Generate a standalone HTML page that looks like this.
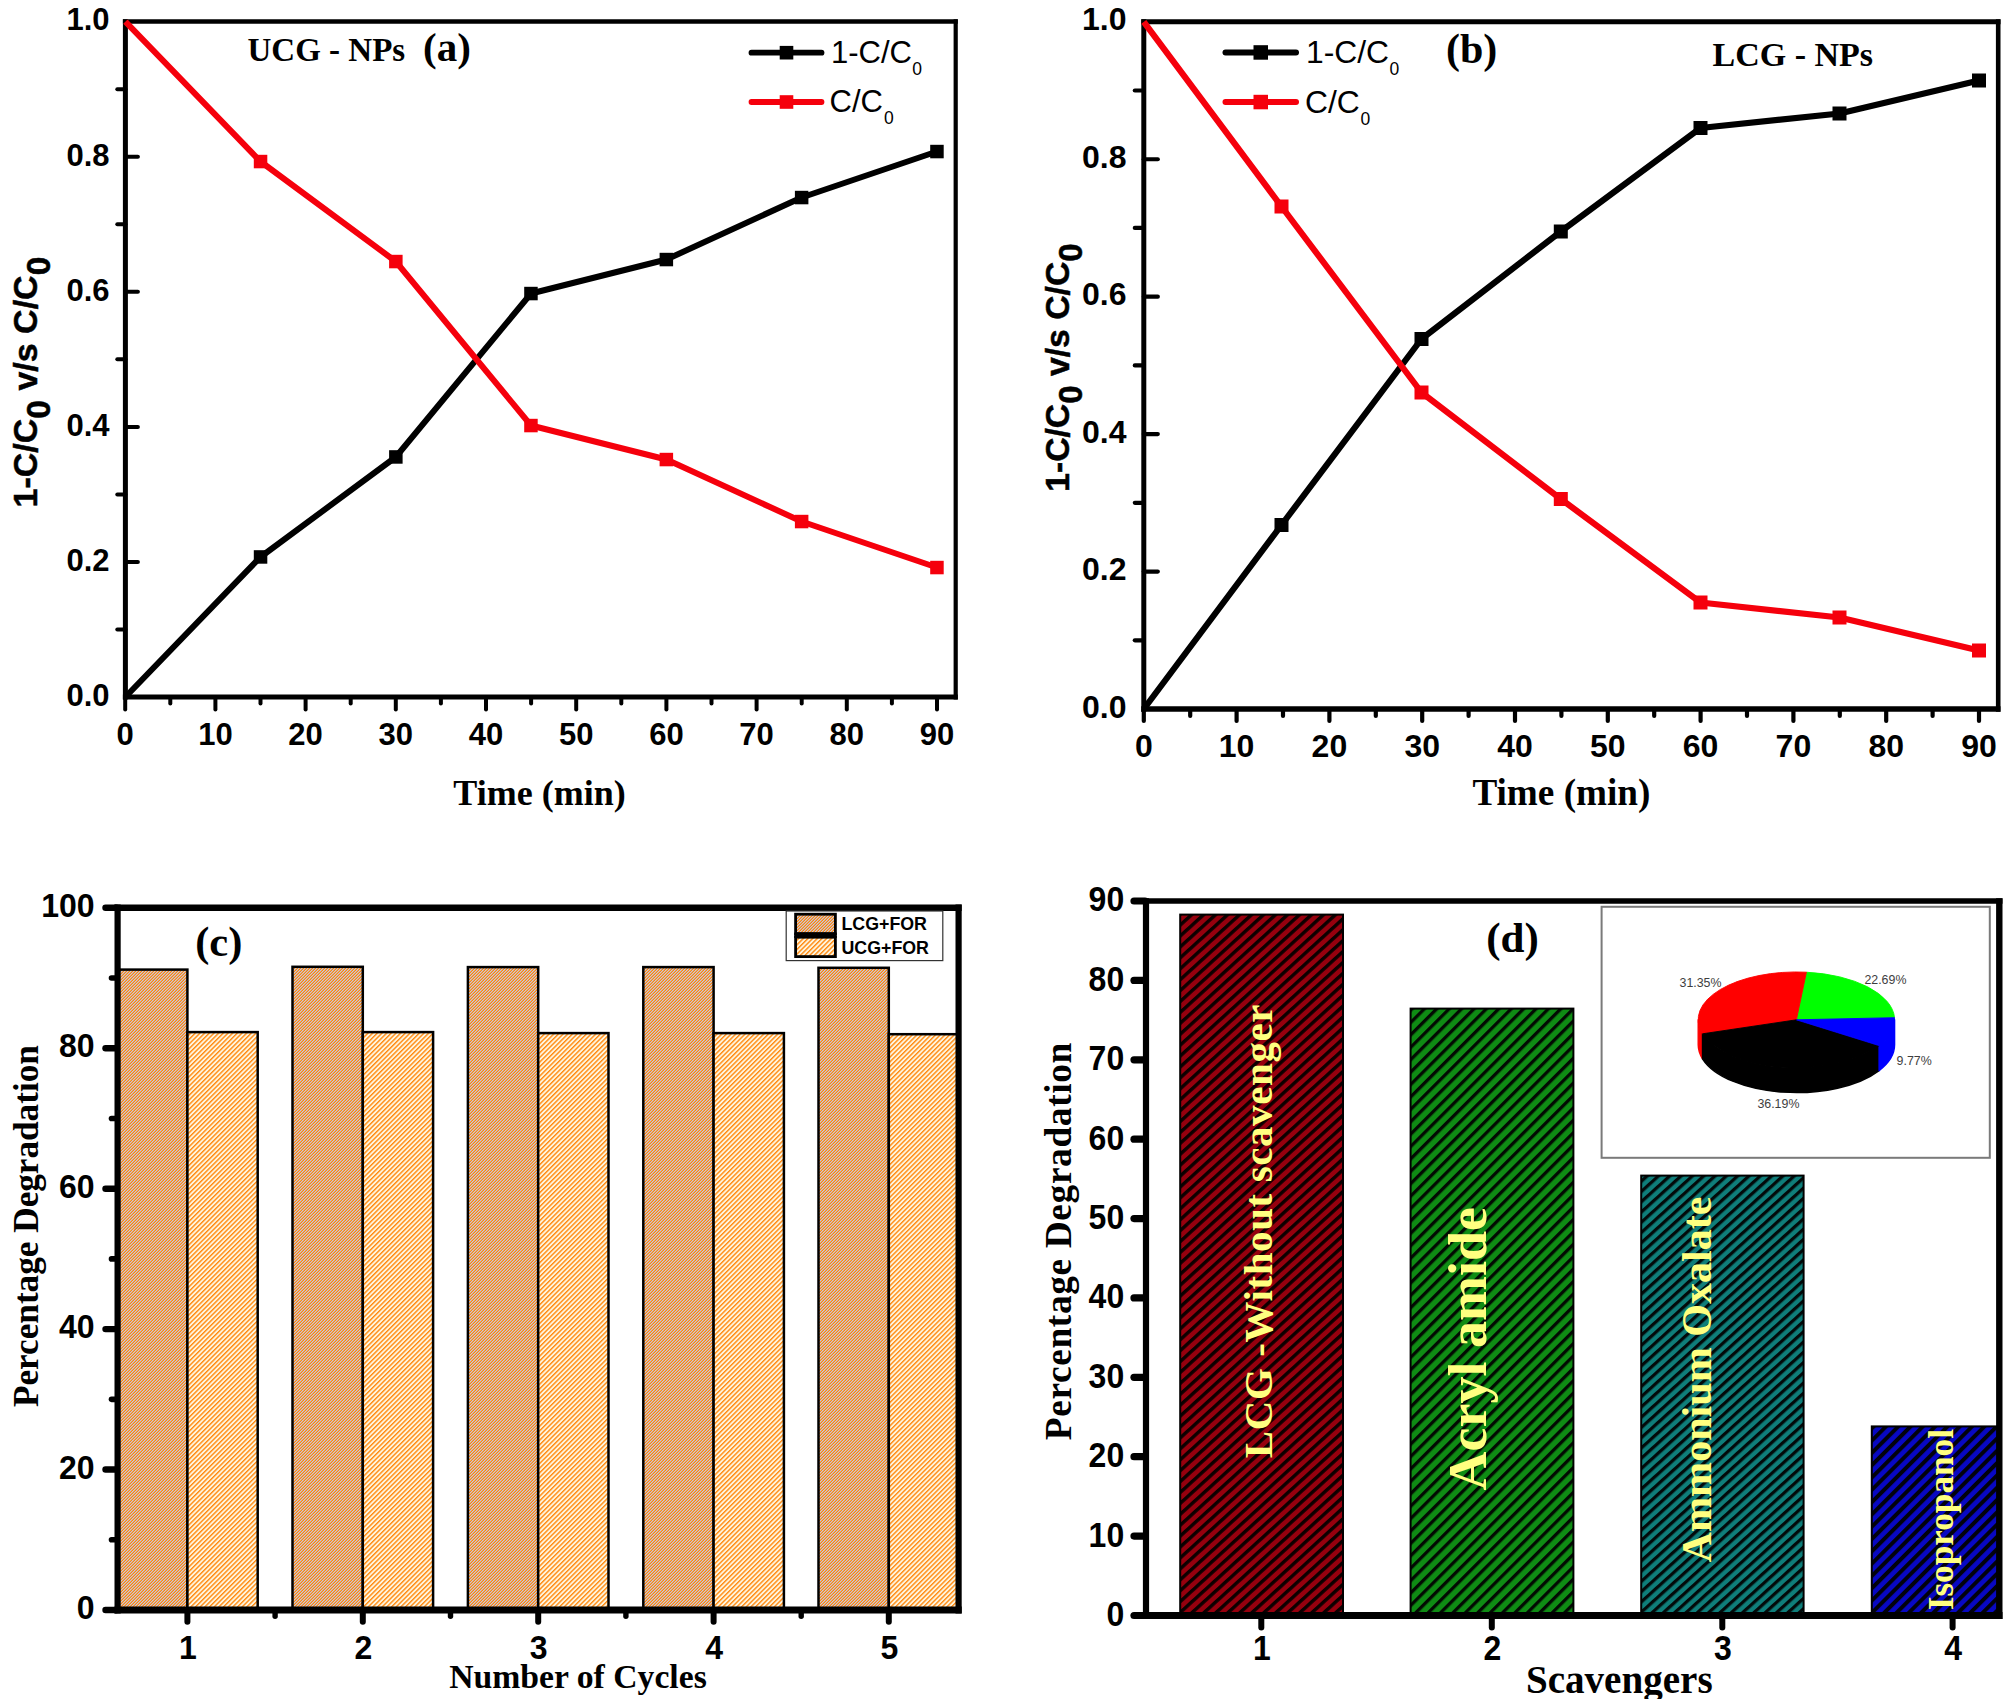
<!DOCTYPE html>
<html lang="en"><head><meta charset="utf-8"><title>Figure</title>
<style>html,body{margin:0;padding:0;background:#fff;}svg{display:block;}</style></head>
<body>
<svg width="2007" height="1699" viewBox="0 0 2007 1699">
<defs>
<pattern id="hL" patternUnits="userSpaceOnUse" width="3" height="3">
<rect x="0" y="0" width="1.02" height="1.02" fill="#c8c8dc" shape-rendering="crispEdges"/>
<rect x="1" y="0" width="1.02" height="1.02" fill="#e4a772" shape-rendering="crispEdges"/>
<rect x="2" y="0" width="1.02" height="1.02" fill="#ff8608" shape-rendering="crispEdges"/>
<rect x="0" y="1" width="1.02" height="1.02" fill="#e4a772" shape-rendering="crispEdges"/>
<rect x="1" y="1" width="1.02" height="1.02" fill="#ff8608" shape-rendering="crispEdges"/>
<rect x="2" y="1" width="1.02" height="1.02" fill="#c8c8dc" shape-rendering="crispEdges"/>
<rect x="0" y="2" width="1.02" height="1.02" fill="#ff8608" shape-rendering="crispEdges"/>
<rect x="1" y="2" width="1.02" height="1.02" fill="#c8c8dc" shape-rendering="crispEdges"/>
<rect x="2" y="2" width="1.02" height="1.02" fill="#e4a772" shape-rendering="crispEdges"/>
</pattern>
<pattern id="hU" patternUnits="userSpaceOnUse" width="3.3" height="3.3" patternTransform="rotate(-45)"><rect width="3.3" height="3.3" fill="#fff6e0"/><rect x="0" y="0" width="3.3" height="1.4" fill="#ff8a10"/></pattern>
<pattern id="hR" patternUnits="userSpaceOnUse" width="8.07" height="8.07" patternTransform="rotate(-42.3)"><rect width="8.07" height="8.07" fill="#96000e"/><rect x="0" y="0" width="8.07" height="3.4" fill="#0c0000"/></pattern>
<pattern id="hG" patternUnits="userSpaceOnUse" width="8.77" height="8.77" patternTransform="rotate(-45)"><rect width="8.77" height="8.77" fill="#0f8c14"/><rect x="0" y="0" width="8.77" height="3.3" fill="#020a02"/></pattern>
<pattern id="hT" patternUnits="userSpaceOnUse" width="7.6" height="7.6" patternTransform="rotate(-42.2)"><rect width="7.6" height="7.6" fill="#0f7e7a"/><rect x="0" y="0" width="7.6" height="3.25" fill="#020a0a"/></pattern>
<pattern id="hB" patternUnits="userSpaceOnUse" width="8.7" height="8.7" patternTransform="rotate(-45)"><rect width="8.7" height="8.7" fill="#0808c4"/><rect x="0" y="0" width="8.7" height="4.0" fill="#02020c"/></pattern>
</defs>
<rect width="2007" height="1699" fill="#fff"/>
<line x1="125.40" y1="19.35" x2="125.40" y2="699.60" stroke="#000" stroke-width="5" stroke-linecap="butt"/>
<line x1="955.70" y1="19.35" x2="955.70" y2="699.60" stroke="#000" stroke-width="4.2" stroke-linecap="butt"/>
<line x1="122.90" y1="21.60" x2="957.80" y2="21.60" stroke="#000" stroke-width="4.5" stroke-linecap="butt"/>
<line x1="122.90" y1="697.10" x2="957.80" y2="697.10" stroke="#000" stroke-width="5" stroke-linecap="butt"/>
<text x="109.50" y="705.90" font-family='"Liberation Sans", sans-serif' font-size="31" font-weight="bold" text-anchor="end" fill="#000" >0.0</text>
<line x1="117.30" y1="629.55" x2="125.40" y2="629.55" stroke="#000" stroke-width="4" stroke-linecap="round"/>
<line x1="125.40" y1="562.00" x2="137.90" y2="562.00" stroke="#000" stroke-width="4" stroke-linecap="round"/>
<text x="109.50" y="570.80" font-family='"Liberation Sans", sans-serif' font-size="31" font-weight="bold" text-anchor="end" fill="#000" >0.2</text>
<line x1="117.30" y1="494.45" x2="125.40" y2="494.45" stroke="#000" stroke-width="4" stroke-linecap="round"/>
<line x1="125.40" y1="426.90" x2="137.90" y2="426.90" stroke="#000" stroke-width="4" stroke-linecap="round"/>
<text x="109.50" y="435.70" font-family='"Liberation Sans", sans-serif' font-size="31" font-weight="bold" text-anchor="end" fill="#000" >0.4</text>
<line x1="117.30" y1="359.35" x2="125.40" y2="359.35" stroke="#000" stroke-width="4" stroke-linecap="round"/>
<line x1="125.40" y1="291.80" x2="137.90" y2="291.80" stroke="#000" stroke-width="4" stroke-linecap="round"/>
<text x="109.50" y="300.60" font-family='"Liberation Sans", sans-serif' font-size="31" font-weight="bold" text-anchor="end" fill="#000" >0.6</text>
<line x1="117.30" y1="224.25" x2="125.40" y2="224.25" stroke="#000" stroke-width="4" stroke-linecap="round"/>
<line x1="125.40" y1="156.70" x2="137.90" y2="156.70" stroke="#000" stroke-width="4" stroke-linecap="round"/>
<text x="109.50" y="165.50" font-family='"Liberation Sans", sans-serif' font-size="31" font-weight="bold" text-anchor="end" fill="#000" >0.8</text>
<line x1="117.30" y1="89.15" x2="125.40" y2="89.15" stroke="#000" stroke-width="4" stroke-linecap="round"/>
<text x="109.50" y="30.40" font-family='"Liberation Sans", sans-serif' font-size="31" font-weight="bold" text-anchor="end" fill="#000" >1.0</text>
<line x1="125.20" y1="697.10" x2="125.20" y2="709.60" stroke="#000" stroke-width="4" stroke-linecap="round"/>
<text x="125.20" y="745.00" font-family='"Liberation Sans", sans-serif' font-size="31" font-weight="bold" text-anchor="middle" fill="#000" >0</text>
<line x1="170.30" y1="697.10" x2="170.30" y2="703.60" stroke="#000" stroke-width="4" stroke-linecap="round"/>
<line x1="215.40" y1="697.10" x2="215.40" y2="709.60" stroke="#000" stroke-width="4" stroke-linecap="round"/>
<text x="215.40" y="745.00" font-family='"Liberation Sans", sans-serif' font-size="31" font-weight="bold" text-anchor="middle" fill="#000" >10</text>
<line x1="260.50" y1="697.10" x2="260.50" y2="703.60" stroke="#000" stroke-width="4" stroke-linecap="round"/>
<line x1="305.60" y1="697.10" x2="305.60" y2="709.60" stroke="#000" stroke-width="4" stroke-linecap="round"/>
<text x="305.60" y="745.00" font-family='"Liberation Sans", sans-serif' font-size="31" font-weight="bold" text-anchor="middle" fill="#000" >20</text>
<line x1="350.70" y1="697.10" x2="350.70" y2="703.60" stroke="#000" stroke-width="4" stroke-linecap="round"/>
<line x1="395.80" y1="697.10" x2="395.80" y2="709.60" stroke="#000" stroke-width="4" stroke-linecap="round"/>
<text x="395.80" y="745.00" font-family='"Liberation Sans", sans-serif' font-size="31" font-weight="bold" text-anchor="middle" fill="#000" >30</text>
<line x1="440.90" y1="697.10" x2="440.90" y2="703.60" stroke="#000" stroke-width="4" stroke-linecap="round"/>
<line x1="486.00" y1="697.10" x2="486.00" y2="709.60" stroke="#000" stroke-width="4" stroke-linecap="round"/>
<text x="486.00" y="745.00" font-family='"Liberation Sans", sans-serif' font-size="31" font-weight="bold" text-anchor="middle" fill="#000" >40</text>
<line x1="531.10" y1="697.10" x2="531.10" y2="703.60" stroke="#000" stroke-width="4" stroke-linecap="round"/>
<line x1="576.20" y1="697.10" x2="576.20" y2="709.60" stroke="#000" stroke-width="4" stroke-linecap="round"/>
<text x="576.20" y="745.00" font-family='"Liberation Sans", sans-serif' font-size="31" font-weight="bold" text-anchor="middle" fill="#000" >50</text>
<line x1="621.30" y1="697.10" x2="621.30" y2="703.60" stroke="#000" stroke-width="4" stroke-linecap="round"/>
<line x1="666.40" y1="697.10" x2="666.40" y2="709.60" stroke="#000" stroke-width="4" stroke-linecap="round"/>
<text x="666.40" y="745.00" font-family='"Liberation Sans", sans-serif' font-size="31" font-weight="bold" text-anchor="middle" fill="#000" >60</text>
<line x1="711.50" y1="697.10" x2="711.50" y2="703.60" stroke="#000" stroke-width="4" stroke-linecap="round"/>
<line x1="756.60" y1="697.10" x2="756.60" y2="709.60" stroke="#000" stroke-width="4" stroke-linecap="round"/>
<text x="756.60" y="745.00" font-family='"Liberation Sans", sans-serif' font-size="31" font-weight="bold" text-anchor="middle" fill="#000" >70</text>
<line x1="801.70" y1="697.10" x2="801.70" y2="703.60" stroke="#000" stroke-width="4" stroke-linecap="round"/>
<line x1="846.80" y1="697.10" x2="846.80" y2="709.60" stroke="#000" stroke-width="4" stroke-linecap="round"/>
<text x="846.80" y="745.00" font-family='"Liberation Sans", sans-serif' font-size="31" font-weight="bold" text-anchor="middle" fill="#000" >80</text>
<line x1="891.90" y1="697.10" x2="891.90" y2="703.60" stroke="#000" stroke-width="4" stroke-linecap="round"/>
<line x1="937.00" y1="697.10" x2="937.00" y2="709.60" stroke="#000" stroke-width="4" stroke-linecap="round"/>
<text x="937.00" y="745.00" font-family='"Liberation Sans", sans-serif' font-size="31" font-weight="bold" text-anchor="middle" fill="#000" >90</text>
<polyline points="125.4,697.0 260.5,557.0 395.8,457.0 531.0,293.5 666.4,259.5 801.6,197.5 937.0,151.5" fill="none" stroke="#000" stroke-width="6" stroke-linejoin="round"/>
<rect x="253.8" y="550.2" width="13.5" height="13.5" fill="#000"/>
<rect x="389.1" y="450.2" width="13.5" height="13.5" fill="#000"/>
<rect x="524.2" y="286.8" width="13.5" height="13.5" fill="#000"/>
<rect x="659.6" y="252.8" width="13.5" height="13.5" fill="#000"/>
<rect x="794.9" y="190.8" width="13.5" height="13.5" fill="#000"/>
<rect x="930.2" y="144.8" width="13.5" height="13.5" fill="#000"/>
<polyline points="125.4,21.6 260.5,161.5 395.8,261.5 531.0,425.5 666.4,459.5 801.6,521.5 937.0,567.5" fill="none" stroke="#f5000c" stroke-width="6" stroke-linejoin="round"/>
<rect x="253.8" y="154.8" width="13.5" height="13.5" fill="#f5000c"/>
<rect x="389.1" y="254.8" width="13.5" height="13.5" fill="#f5000c"/>
<rect x="524.2" y="418.8" width="13.5" height="13.5" fill="#f5000c"/>
<rect x="659.6" y="452.8" width="13.5" height="13.5" fill="#f5000c"/>
<rect x="794.9" y="514.8" width="13.5" height="13.5" fill="#f5000c"/>
<rect x="930.2" y="560.8" width="13.5" height="13.5" fill="#f5000c"/>
<line x1="751.50" y1="52.70" x2="821.50" y2="52.70" stroke="#000" stroke-width="5.8" stroke-linecap="round"/>
<rect x="779.7" y="45.9" width="13.6" height="13.6" fill="#000"/>
<text x="831.00" y="63.10" font-family='"Liberation Sans", sans-serif' font-size="31" font-weight="normal" text-anchor="start" fill="#000" >1-C/C</text>
<text x="912.30" y="74.80" font-family='"Liberation Sans", sans-serif' font-size="17.5" font-weight="normal" text-anchor="start" fill="#000" >0</text>
<line x1="751.50" y1="102.00" x2="821.50" y2="102.00" stroke="#f5000c" stroke-width="5.8" stroke-linecap="round"/>
<rect x="779.7" y="95.2" width="13.6" height="13.6" fill="#f5000c"/>
<text x="829.50" y="112.30" font-family='"Liberation Sans", sans-serif' font-size="31" font-weight="normal" text-anchor="start" fill="#000" >C/C</text>
<text x="884.00" y="124.00" font-family='"Liberation Sans", sans-serif' font-size="17.5" font-weight="normal" text-anchor="start" fill="#000" >0</text>
<text x="247.50" y="60.80" font-family='"Liberation Serif", serif' font-size="33" font-weight="bold" text-anchor="start" fill="#000" >UCG - NPs</text>
<text x="423.00" y="60.80" font-family='"Liberation Serif", serif' font-size="41" font-weight="bold" text-anchor="start" fill="#000" >(a)</text>
<text x="539.50" y="805.40" font-family='"Liberation Serif", serif' font-size="36" font-weight="bold" text-anchor="middle" fill="#000" >Time (min)</text>
<text transform="translate(37.00,507.50) rotate(-90)" font-family='"Liberation Sans", sans-serif' font-size="34" font-weight="bold" fill="#000" stroke="#000" stroke-width="0.5">1-C/C<tspan dy="13.4" font-size="33.5">0</tspan><tspan dy="-13.4"> v/s C/C</tspan><tspan dy="13.4" font-size="33.5">0</tspan></text>
<line x1="1143.80" y1="19.30" x2="1143.80" y2="711.75" stroke="#000" stroke-width="5" stroke-linecap="butt"/>
<line x1="1998.20" y1="19.30" x2="1998.20" y2="711.75" stroke="#000" stroke-width="4.6" stroke-linecap="butt"/>
<line x1="1141.30" y1="21.80" x2="2000.50" y2="21.80" stroke="#000" stroke-width="5" stroke-linecap="butt"/>
<line x1="1141.30" y1="709.00" x2="2000.50" y2="709.00" stroke="#000" stroke-width="5.5" stroke-linecap="butt"/>
<text x="1126.50" y="717.60" font-family='"Liberation Sans", sans-serif' font-size="32" font-weight="bold" text-anchor="end" fill="#000" >0.0</text>
<line x1="1134.80" y1="640.28" x2="1143.80" y2="640.28" stroke="#000" stroke-width="4.2" stroke-linecap="round"/>
<line x1="1143.80" y1="571.56" x2="1157.80" y2="571.56" stroke="#000" stroke-width="4.2" stroke-linecap="round"/>
<text x="1126.50" y="580.16" font-family='"Liberation Sans", sans-serif' font-size="32" font-weight="bold" text-anchor="end" fill="#000" >0.2</text>
<line x1="1134.80" y1="502.84" x2="1143.80" y2="502.84" stroke="#000" stroke-width="4.2" stroke-linecap="round"/>
<line x1="1143.80" y1="434.12" x2="1157.80" y2="434.12" stroke="#000" stroke-width="4.2" stroke-linecap="round"/>
<text x="1126.50" y="442.72" font-family='"Liberation Sans", sans-serif' font-size="32" font-weight="bold" text-anchor="end" fill="#000" >0.4</text>
<line x1="1134.80" y1="365.40" x2="1143.80" y2="365.40" stroke="#000" stroke-width="4.2" stroke-linecap="round"/>
<line x1="1143.80" y1="296.68" x2="1157.80" y2="296.68" stroke="#000" stroke-width="4.2" stroke-linecap="round"/>
<text x="1126.50" y="305.28" font-family='"Liberation Sans", sans-serif' font-size="32" font-weight="bold" text-anchor="end" fill="#000" >0.6</text>
<line x1="1134.80" y1="227.96" x2="1143.80" y2="227.96" stroke="#000" stroke-width="4.2" stroke-linecap="round"/>
<line x1="1143.80" y1="159.24" x2="1157.80" y2="159.24" stroke="#000" stroke-width="4.2" stroke-linecap="round"/>
<text x="1126.50" y="167.84" font-family='"Liberation Sans", sans-serif' font-size="32" font-weight="bold" text-anchor="end" fill="#000" >0.8</text>
<line x1="1134.80" y1="90.52" x2="1143.80" y2="90.52" stroke="#000" stroke-width="4.2" stroke-linecap="round"/>
<text x="1126.50" y="30.40" font-family='"Liberation Sans", sans-serif' font-size="32" font-weight="bold" text-anchor="end" fill="#000" >1.0</text>
<line x1="1143.80" y1="709.00" x2="1143.80" y2="721.00" stroke="#000" stroke-width="4.2" stroke-linecap="round"/>
<text x="1143.80" y="756.50" font-family='"Liberation Sans", sans-serif' font-size="32" font-weight="bold" text-anchor="middle" fill="#000" >0</text>
<line x1="1190.20" y1="709.00" x2="1190.20" y2="716.00" stroke="#000" stroke-width="4.2" stroke-linecap="round"/>
<line x1="1236.60" y1="709.00" x2="1236.60" y2="721.00" stroke="#000" stroke-width="4.2" stroke-linecap="round"/>
<text x="1236.60" y="756.50" font-family='"Liberation Sans", sans-serif' font-size="32" font-weight="bold" text-anchor="middle" fill="#000" >10</text>
<line x1="1283.00" y1="709.00" x2="1283.00" y2="716.00" stroke="#000" stroke-width="4.2" stroke-linecap="round"/>
<line x1="1329.40" y1="709.00" x2="1329.40" y2="721.00" stroke="#000" stroke-width="4.2" stroke-linecap="round"/>
<text x="1329.40" y="756.50" font-family='"Liberation Sans", sans-serif' font-size="32" font-weight="bold" text-anchor="middle" fill="#000" >20</text>
<line x1="1375.80" y1="709.00" x2="1375.80" y2="716.00" stroke="#000" stroke-width="4.2" stroke-linecap="round"/>
<line x1="1422.20" y1="709.00" x2="1422.20" y2="721.00" stroke="#000" stroke-width="4.2" stroke-linecap="round"/>
<text x="1422.20" y="756.50" font-family='"Liberation Sans", sans-serif' font-size="32" font-weight="bold" text-anchor="middle" fill="#000" >30</text>
<line x1="1468.60" y1="709.00" x2="1468.60" y2="716.00" stroke="#000" stroke-width="4.2" stroke-linecap="round"/>
<line x1="1515.00" y1="709.00" x2="1515.00" y2="721.00" stroke="#000" stroke-width="4.2" stroke-linecap="round"/>
<text x="1515.00" y="756.50" font-family='"Liberation Sans", sans-serif' font-size="32" font-weight="bold" text-anchor="middle" fill="#000" >40</text>
<line x1="1561.40" y1="709.00" x2="1561.40" y2="716.00" stroke="#000" stroke-width="4.2" stroke-linecap="round"/>
<line x1="1607.80" y1="709.00" x2="1607.80" y2="721.00" stroke="#000" stroke-width="4.2" stroke-linecap="round"/>
<text x="1607.80" y="756.50" font-family='"Liberation Sans", sans-serif' font-size="32" font-weight="bold" text-anchor="middle" fill="#000" >50</text>
<line x1="1654.20" y1="709.00" x2="1654.20" y2="716.00" stroke="#000" stroke-width="4.2" stroke-linecap="round"/>
<line x1="1700.60" y1="709.00" x2="1700.60" y2="721.00" stroke="#000" stroke-width="4.2" stroke-linecap="round"/>
<text x="1700.60" y="756.50" font-family='"Liberation Sans", sans-serif' font-size="32" font-weight="bold" text-anchor="middle" fill="#000" >60</text>
<line x1="1747.00" y1="709.00" x2="1747.00" y2="716.00" stroke="#000" stroke-width="4.2" stroke-linecap="round"/>
<line x1="1793.40" y1="709.00" x2="1793.40" y2="721.00" stroke="#000" stroke-width="4.2" stroke-linecap="round"/>
<text x="1793.40" y="756.50" font-family='"Liberation Sans", sans-serif' font-size="32" font-weight="bold" text-anchor="middle" fill="#000" >70</text>
<line x1="1839.80" y1="709.00" x2="1839.80" y2="716.00" stroke="#000" stroke-width="4.2" stroke-linecap="round"/>
<line x1="1886.20" y1="709.00" x2="1886.20" y2="721.00" stroke="#000" stroke-width="4.2" stroke-linecap="round"/>
<text x="1886.20" y="756.50" font-family='"Liberation Sans", sans-serif' font-size="32" font-weight="bold" text-anchor="middle" fill="#000" >80</text>
<line x1="1932.60" y1="709.00" x2="1932.60" y2="716.00" stroke="#000" stroke-width="4.2" stroke-linecap="round"/>
<line x1="1979.00" y1="709.00" x2="1979.00" y2="721.00" stroke="#000" stroke-width="4.2" stroke-linecap="round"/>
<text x="1979.00" y="756.50" font-family='"Liberation Sans", sans-serif' font-size="32" font-weight="bold" text-anchor="middle" fill="#000" >90</text>
<polyline points="1143.8,709.0 1281.5,525.0 1421.5,339.0 1560.8,231.5 1700.5,128.0 1839.5,113.5 1979.0,80.5" fill="none" stroke="#000" stroke-width="6.2" stroke-linejoin="round"/>
<rect x="1274.5" y="518.0" width="14" height="14" fill="#000"/>
<rect x="1414.5" y="332.0" width="14" height="14" fill="#000"/>
<rect x="1553.8" y="224.5" width="14" height="14" fill="#000"/>
<rect x="1693.5" y="121.0" width="14" height="14" fill="#000"/>
<rect x="1832.5" y="106.5" width="14" height="14" fill="#000"/>
<rect x="1972.0" y="73.5" width="14" height="14" fill="#000"/>
<polyline points="1143.8,21.8 1281.5,206.5 1421.5,392.5 1560.8,499.0 1700.5,602.5 1839.5,617.5 1979.0,650.5" fill="none" stroke="#f5000c" stroke-width="6.2" stroke-linejoin="round"/>
<rect x="1274.5" y="199.5" width="14" height="14" fill="#f5000c"/>
<rect x="1414.5" y="385.5" width="14" height="14" fill="#f5000c"/>
<rect x="1553.8" y="492.0" width="14" height="14" fill="#f5000c"/>
<rect x="1693.5" y="595.5" width="14" height="14" fill="#f5000c"/>
<rect x="1832.5" y="610.5" width="14" height="14" fill="#f5000c"/>
<rect x="1972.0" y="643.5" width="14" height="14" fill="#f5000c"/>
<line x1="1225.50" y1="52.50" x2="1296.00" y2="52.50" stroke="#000" stroke-width="6" stroke-linecap="round"/>
<rect x="1253.5" y="45.2" width="14.5" height="14.5" fill="#000"/>
<text x="1306.00" y="62.50" font-family='"Liberation Sans", sans-serif' font-size="31.8" font-weight="normal" text-anchor="start" fill="#000" >1-C/C</text>
<text x="1389.50" y="75.00" font-family='"Liberation Sans", sans-serif' font-size="17.5" font-weight="normal" text-anchor="start" fill="#000" >0</text>
<line x1="1225.50" y1="102.00" x2="1296.00" y2="102.00" stroke="#f5000c" stroke-width="6" stroke-linecap="round"/>
<rect x="1253.5" y="94.8" width="14.5" height="14.5" fill="#f5000c"/>
<text x="1305.00" y="112.50" font-family='"Liberation Sans", sans-serif' font-size="31.8" font-weight="normal" text-anchor="start" fill="#000" >C/C</text>
<text x="1360.50" y="125.00" font-family='"Liberation Sans", sans-serif' font-size="17.5" font-weight="normal" text-anchor="start" fill="#000" >0</text>
<text x="1446.00" y="62.50" font-family='"Liberation Serif", serif' font-size="42" font-weight="bold" text-anchor="start" fill="#000" >(b)</text>
<text x="1712.50" y="65.50" font-family='"Liberation Serif", serif' font-size="34" font-weight="bold" text-anchor="start" fill="#000" >LCG - NPs</text>
<text x="1561.40" y="804.70" font-family='"Liberation Serif", serif' font-size="37.2" font-weight="bold" text-anchor="middle" fill="#000" >Time (min)</text>
<text transform="translate(1068.50,491.80) rotate(-90)" font-family='"Liberation Sans", sans-serif' font-size="33.7" font-weight="bold" fill="#000" stroke="#000" stroke-width="0.5">1-C/C<tspan dy="13.6" font-size="33.2">0</tspan><tspan dy="-13.6"> v/s C/C</tspan><tspan dy="13.6" font-size="33.2">0</tspan></text>
<clipPath id="clipC"><rect x="117.6" y="907.8" width="841.0" height="702.2"/></clipPath>
<g clip-path="url(#clipC)">
<rect x="117.1" y="969.6" width="70.3" height="645.4" fill="url(#hL)" stroke="#000" stroke-width="2.5"/>
<rect x="187.4" y="1032.1" width="70.3" height="582.9" fill="url(#hU)" stroke="#000" stroke-width="2.5"/>
<rect x="292.5" y="966.8" width="70.3" height="648.2" fill="url(#hL)" stroke="#000" stroke-width="2.5"/>
<rect x="362.8" y="1032.1" width="70.3" height="582.9" fill="url(#hU)" stroke="#000" stroke-width="2.5"/>
<rect x="467.9" y="967.1" width="70.3" height="647.9" fill="url(#hL)" stroke="#000" stroke-width="2.5"/>
<rect x="538.2" y="1033.1" width="70.3" height="581.9" fill="url(#hU)" stroke="#000" stroke-width="2.5"/>
<rect x="643.3" y="967.1" width="70.3" height="647.9" fill="url(#hL)" stroke="#000" stroke-width="2.5"/>
<rect x="713.6" y="1033.1" width="70.3" height="581.9" fill="url(#hU)" stroke="#000" stroke-width="2.5"/>
<rect x="818.5" y="967.8" width="70.3" height="647.2" fill="url(#hL)" stroke="#000" stroke-width="2.5"/>
<rect x="888.8" y="1034.2" width="70.3" height="580.8" fill="url(#hU)" stroke="#000" stroke-width="2.5"/>
</g>
<line x1="117.60" y1="904.60" x2="117.60" y2="1613.50" stroke="#000" stroke-width="6.2" stroke-linecap="butt"/>
<line x1="958.60" y1="904.60" x2="958.60" y2="1613.50" stroke="#000" stroke-width="6.2" stroke-linecap="butt"/>
<line x1="114.50" y1="907.80" x2="961.70" y2="907.80" stroke="#000" stroke-width="6.4" stroke-linecap="butt"/>
<line x1="114.50" y1="1610.00" x2="961.70" y2="1610.00" stroke="#000" stroke-width="7" stroke-linecap="butt"/>
<line x1="105.50" y1="1610.00" x2="116.60" y2="1610.00" stroke="#000" stroke-width="6.4" stroke-linecap="round"/>
<text transform="translate(94.60,1619.20) scale(1,1.04)" font-family='"Liberation Sans", sans-serif' font-size="32" font-weight="bold" text-anchor="end" fill="#000" >0</text>
<line x1="111.50" y1="1539.78" x2="116.60" y2="1539.78" stroke="#000" stroke-width="5.6" stroke-linecap="round"/>
<line x1="105.50" y1="1469.56" x2="116.60" y2="1469.56" stroke="#000" stroke-width="6.4" stroke-linecap="round"/>
<text transform="translate(94.60,1478.76) scale(1,1.04)" font-family='"Liberation Sans", sans-serif' font-size="32" font-weight="bold" text-anchor="end" fill="#000" >20</text>
<line x1="111.50" y1="1399.34" x2="116.60" y2="1399.34" stroke="#000" stroke-width="5.6" stroke-linecap="round"/>
<line x1="105.50" y1="1329.12" x2="116.60" y2="1329.12" stroke="#000" stroke-width="6.4" stroke-linecap="round"/>
<text transform="translate(94.60,1338.32) scale(1,1.04)" font-family='"Liberation Sans", sans-serif' font-size="32" font-weight="bold" text-anchor="end" fill="#000" >40</text>
<line x1="111.50" y1="1258.90" x2="116.60" y2="1258.90" stroke="#000" stroke-width="5.6" stroke-linecap="round"/>
<line x1="105.50" y1="1188.68" x2="116.60" y2="1188.68" stroke="#000" stroke-width="6.4" stroke-linecap="round"/>
<text transform="translate(94.60,1197.88) scale(1,1.04)" font-family='"Liberation Sans", sans-serif' font-size="32" font-weight="bold" text-anchor="end" fill="#000" >60</text>
<line x1="111.50" y1="1118.46" x2="116.60" y2="1118.46" stroke="#000" stroke-width="5.6" stroke-linecap="round"/>
<line x1="105.50" y1="1048.24" x2="116.60" y2="1048.24" stroke="#000" stroke-width="6.4" stroke-linecap="round"/>
<text transform="translate(94.60,1057.44) scale(1,1.04)" font-family='"Liberation Sans", sans-serif' font-size="32" font-weight="bold" text-anchor="end" fill="#000" >80</text>
<line x1="111.50" y1="978.02" x2="116.60" y2="978.02" stroke="#000" stroke-width="5.6" stroke-linecap="round"/>
<line x1="105.50" y1="907.80" x2="116.60" y2="907.80" stroke="#000" stroke-width="6.4" stroke-linecap="round"/>
<text transform="translate(94.60,917.00) scale(1,1.04)" font-family='"Liberation Sans", sans-serif' font-size="32" font-weight="bold" text-anchor="end" fill="#000" >100</text>
<line x1="187.40" y1="1610.00" x2="187.40" y2="1621.80" stroke="#000" stroke-width="6" stroke-linecap="round"/>
<text transform="translate(187.90,1659.40) scale(1,1.05)" font-family='"Liberation Sans", sans-serif' font-size="32" font-weight="bold" text-anchor="middle" fill="#000" >1</text>
<line x1="362.80" y1="1610.00" x2="362.80" y2="1621.80" stroke="#000" stroke-width="6" stroke-linecap="round"/>
<text transform="translate(363.30,1659.40) scale(1,1.05)" font-family='"Liberation Sans", sans-serif' font-size="32" font-weight="bold" text-anchor="middle" fill="#000" >2</text>
<line x1="538.20" y1="1610.00" x2="538.20" y2="1621.80" stroke="#000" stroke-width="6" stroke-linecap="round"/>
<text transform="translate(538.70,1659.40) scale(1,1.05)" font-family='"Liberation Sans", sans-serif' font-size="32" font-weight="bold" text-anchor="middle" fill="#000" >3</text>
<line x1="713.60" y1="1610.00" x2="713.60" y2="1621.80" stroke="#000" stroke-width="6" stroke-linecap="round"/>
<text transform="translate(714.10,1659.40) scale(1,1.05)" font-family='"Liberation Sans", sans-serif' font-size="32" font-weight="bold" text-anchor="middle" fill="#000" >4</text>
<line x1="888.80" y1="1610.00" x2="888.80" y2="1621.80" stroke="#000" stroke-width="6" stroke-linecap="round"/>
<text transform="translate(889.30,1659.40) scale(1,1.05)" font-family='"Liberation Sans", sans-serif' font-size="32" font-weight="bold" text-anchor="middle" fill="#000" >5</text>
<line x1="275.10" y1="1610.00" x2="275.10" y2="1616.20" stroke="#000" stroke-width="5.4" stroke-linecap="round"/>
<line x1="450.50" y1="1610.00" x2="450.50" y2="1616.20" stroke="#000" stroke-width="5.4" stroke-linecap="round"/>
<line x1="625.90" y1="1610.00" x2="625.90" y2="1616.20" stroke="#000" stroke-width="5.4" stroke-linecap="round"/>
<line x1="801.20" y1="1610.00" x2="801.20" y2="1616.20" stroke="#000" stroke-width="5.4" stroke-linecap="round"/>
<rect x="786.2" y="911" width="156.6" height="49.6" fill="#fff" stroke="#333" stroke-width="1.2"/>
<rect x="795.6" y="914.2" width="39.8" height="19.4" fill="url(#hL)" stroke="#000" stroke-width="2.8"/>
<rect x="795.6" y="937.2" width="39.8" height="19.4" fill="url(#hU)" stroke="#000" stroke-width="2.8"/>
<rect x="794.2" y="932.6" width="42.6" height="5.4" fill="#000"/>
<text x="841.50" y="930.30" font-family='"Liberation Sans", sans-serif' font-size="17.8" font-weight="bold" text-anchor="start" fill="#000" >LCG+FOR</text>
<text x="841.50" y="954.20" font-family='"Liberation Sans", sans-serif' font-size="17.8" font-weight="bold" text-anchor="start" fill="#000" >UCG+FOR</text>
<text x="195.20" y="955.60" font-family='"Liberation Serif", serif' font-size="42.5" font-weight="bold" text-anchor="start" fill="#000" >(c)</text>
<text x="578.00" y="1687.80" font-family='"Liberation Serif", serif' font-size="33.7" font-weight="bold" text-anchor="middle" fill="#000" >Number of Cycles</text>
<text transform="translate(37.50,1407.00) rotate(-90)" font-family='"Liberation Serif", serif' font-size="35.2" font-weight="bold" text-anchor="start" fill="#000" >Percentage Degradation</text>
<clipPath id="clipD"><rect x="1146.0" y="901.0" width="853.3" height="714.5"/></clipPath>
<g clip-path="url(#clipD)">
<rect x="1180.2" y="914.6" width="162.8" height="705.9" fill="url(#hR)" stroke="#000" stroke-width="2"/>
<rect x="1410.6" y="1008.6" width="162.8" height="611.9" fill="url(#hG)" stroke="#000" stroke-width="2"/>
<rect x="1641.2" y="1175.6" width="162.4" height="444.9" fill="url(#hT)" stroke="#000" stroke-width="2"/>
<rect x="1871.8" y="1426.4" width="131.2" height="194.1" fill="url(#hB)" stroke="#000" stroke-width="2"/>
</g>
<line x1="1146.00" y1="898.20" x2="1146.00" y2="1619.00" stroke="#000" stroke-width="6.2" stroke-linecap="butt"/>
<line x1="1999.30" y1="898.20" x2="1999.30" y2="1619.00" stroke="#000" stroke-width="6.4" stroke-linecap="butt"/>
<line x1="1142.90" y1="901.00" x2="2002.50" y2="901.00" stroke="#000" stroke-width="5.6" stroke-linecap="butt"/>
<line x1="1142.90" y1="1615.50" x2="2002.50" y2="1615.50" stroke="#000" stroke-width="7" stroke-linecap="butt"/>
<line x1="1134.00" y1="1615.50" x2="1145.00" y2="1615.50" stroke="#000" stroke-width="7.2" stroke-linecap="round"/>
<text transform="translate(1124.20,1625.90) scale(1,1.125)" font-family='"Liberation Sans", sans-serif' font-size="32" font-weight="bold" text-anchor="end" fill="#000" >0</text>
<line x1="1134.00" y1="1536.11" x2="1145.00" y2="1536.11" stroke="#000" stroke-width="7.2" stroke-linecap="round"/>
<text transform="translate(1124.20,1546.51) scale(1,1.125)" font-family='"Liberation Sans", sans-serif' font-size="32" font-weight="bold" text-anchor="end" fill="#000" >10</text>
<line x1="1134.00" y1="1456.72" x2="1145.00" y2="1456.72" stroke="#000" stroke-width="7.2" stroke-linecap="round"/>
<text transform="translate(1124.20,1467.12) scale(1,1.125)" font-family='"Liberation Sans", sans-serif' font-size="32" font-weight="bold" text-anchor="end" fill="#000" >20</text>
<line x1="1134.00" y1="1377.33" x2="1145.00" y2="1377.33" stroke="#000" stroke-width="7.2" stroke-linecap="round"/>
<text transform="translate(1124.20,1387.73) scale(1,1.125)" font-family='"Liberation Sans", sans-serif' font-size="32" font-weight="bold" text-anchor="end" fill="#000" >30</text>
<line x1="1134.00" y1="1297.94" x2="1145.00" y2="1297.94" stroke="#000" stroke-width="7.2" stroke-linecap="round"/>
<text transform="translate(1124.20,1308.34) scale(1,1.125)" font-family='"Liberation Sans", sans-serif' font-size="32" font-weight="bold" text-anchor="end" fill="#000" >40</text>
<line x1="1134.00" y1="1218.56" x2="1145.00" y2="1218.56" stroke="#000" stroke-width="7.2" stroke-linecap="round"/>
<text transform="translate(1124.20,1228.96) scale(1,1.125)" font-family='"Liberation Sans", sans-serif' font-size="32" font-weight="bold" text-anchor="end" fill="#000" >50</text>
<line x1="1134.00" y1="1139.17" x2="1145.00" y2="1139.17" stroke="#000" stroke-width="7.2" stroke-linecap="round"/>
<text transform="translate(1124.20,1149.57) scale(1,1.125)" font-family='"Liberation Sans", sans-serif' font-size="32" font-weight="bold" text-anchor="end" fill="#000" >60</text>
<line x1="1134.00" y1="1059.78" x2="1145.00" y2="1059.78" stroke="#000" stroke-width="7.2" stroke-linecap="round"/>
<text transform="translate(1124.20,1070.18) scale(1,1.125)" font-family='"Liberation Sans", sans-serif' font-size="32" font-weight="bold" text-anchor="end" fill="#000" >70</text>
<line x1="1134.00" y1="980.39" x2="1145.00" y2="980.39" stroke="#000" stroke-width="7.2" stroke-linecap="round"/>
<text transform="translate(1124.20,990.79) scale(1,1.125)" font-family='"Liberation Sans", sans-serif' font-size="32" font-weight="bold" text-anchor="end" fill="#000" >80</text>
<line x1="1134.00" y1="901.00" x2="1145.00" y2="901.00" stroke="#000" stroke-width="7.2" stroke-linecap="round"/>
<text transform="translate(1124.20,911.40) scale(1,1.125)" font-family='"Liberation Sans", sans-serif' font-size="32" font-weight="bold" text-anchor="end" fill="#000" >90</text>
<line x1="1261.30" y1="1615.50" x2="1261.30" y2="1627.40" stroke="#000" stroke-width="6" stroke-linecap="round"/>
<text transform="translate(1261.80,1660.40) scale(1,1.125)" font-family='"Liberation Sans", sans-serif' font-size="32" font-weight="bold" text-anchor="middle" fill="#000" >1</text>
<line x1="1491.80" y1="1615.50" x2="1491.80" y2="1627.40" stroke="#000" stroke-width="6" stroke-linecap="round"/>
<text transform="translate(1492.30,1660.40) scale(1,1.125)" font-family='"Liberation Sans", sans-serif' font-size="32" font-weight="bold" text-anchor="middle" fill="#000" >2</text>
<line x1="1722.30" y1="1615.50" x2="1722.30" y2="1627.40" stroke="#000" stroke-width="6" stroke-linecap="round"/>
<text transform="translate(1722.80,1660.40) scale(1,1.125)" font-family='"Liberation Sans", sans-serif' font-size="32" font-weight="bold" text-anchor="middle" fill="#000" >3</text>
<line x1="1952.60" y1="1615.50" x2="1952.60" y2="1627.40" stroke="#000" stroke-width="6" stroke-linecap="round"/>
<text transform="translate(1953.10,1660.40) scale(1,1.125)" font-family='"Liberation Sans", sans-serif' font-size="32" font-weight="bold" text-anchor="middle" fill="#000" >4</text>
<text transform="translate(1272.20,1458.20) rotate(-90)" font-family='"Liberation Serif", serif' font-size="41.0" font-weight="bold" text-anchor="start" fill="#ffff80" letter-spacing="0.6">LCG -Without scavenger</text>
<text transform="translate(1485.80,1490.50) rotate(-90)" font-family='"Liberation Serif", serif' font-size="54" font-weight="bold" text-anchor="start" fill="#ffff80" >Acryl amide</text>
<text transform="translate(1711.00,1562.40) rotate(-90)" font-family='"Liberation Serif", serif' font-size="42.1" font-weight="bold" text-anchor="start" fill="#ffff80" >Ammonium Oxalate</text>
<text transform="translate(1953.20,1610.30) rotate(-90)" font-family='"Liberation Serif", serif' font-size="35.2" font-weight="bold" text-anchor="start" fill="#ffff80" >Isopropanol</text>
<text x="1486.20" y="952.30" font-family='"Liberation Serif", serif' font-size="43" font-weight="bold" text-anchor="start" fill="#000" >(d)</text>
<text x="1619.30" y="1693.30" font-family='"Liberation Serif", serif' font-size="39.1" font-weight="bold" text-anchor="middle" fill="#000" >Scavengers</text>
<text transform="translate(1070.60,1440.20) rotate(-90)" font-family='"Liberation Serif", serif' font-size="37.4" font-weight="bold" text-anchor="start" fill="#000" letter-spacing="0.62">Percentage Degradation</text>
<rect x="1601.6" y="906.8" width="388.2" height="251" fill="#fff" stroke="#7a7a7a" stroke-width="2"/>
<path d="M1698.2,1019.8 A98.2,47.8 0 0 0 1702.5,1033.8 L1702.5,1058.8 A98.2,47.8 0 0 1 1698.2,1044.8 Z" fill="#ff0000" stroke="#ff0000" stroke-width="1.4" stroke-linejoin="round"/>
<path d="M1702.5,1033.8 A98.2,47.8 0 0 0 1879.1,1045.6 L1879.1,1070.6 A98.2,47.8 0 0 1 1702.5,1058.8 Z" fill="#000000" stroke="#000000" stroke-width="1.4" stroke-linejoin="round"/>
<path d="M1879.1,1045.6 A98.2,47.8 0 0 0 1894.6,1019.8 L1894.6,1044.8 A98.2,47.8 0 0 1 1879.1,1070.6 Z" fill="#0000ff" stroke="#0000ff" stroke-width="1.4" stroke-linejoin="round"/>
<path d="M1796.4,1019.8 L1894.5,1017.7 A98.2,47.8 0 0 0 1806.4,972.2 Z" fill="#00ff00" stroke="#00ff00" stroke-width="0.9" stroke-linejoin="round"/>
<path d="M1796.4,1019.8 L1806.4,972.2 A98.2,47.8 0 0 0 1702.5,1033.8 Z" fill="#ff0000" stroke="#ff0000" stroke-width="0.9" stroke-linejoin="round"/>
<path d="M1796.4,1019.8 L1702.5,1033.8 A98.2,47.8 0 0 0 1879.1,1045.6 Z" fill="#000000" stroke="#000000" stroke-width="0.9" stroke-linejoin="round"/>
<path d="M1796.4,1019.8 L1879.1,1045.6 A98.2,47.8 0 0 0 1894.5,1017.7 Z" fill="#0000ff" stroke="#0000ff" stroke-width="0.9" stroke-linejoin="round"/>
<text x="1679.50" y="986.60" font-family='"Liberation Sans", sans-serif' font-size="12.4" font-weight="normal" text-anchor="start" fill="#3e3e3e" >31.35%</text>
<text x="1864.40" y="983.60" font-family='"Liberation Sans", sans-serif' font-size="12.4" font-weight="normal" text-anchor="start" fill="#3e3e3e" >22.69%</text>
<text x="1896.60" y="1064.60" font-family='"Liberation Sans", sans-serif' font-size="12.4" font-weight="normal" text-anchor="start" fill="#3e3e3e" >9.77%</text>
<text x="1757.40" y="1107.80" font-family='"Liberation Sans", sans-serif' font-size="12.4" font-weight="normal" text-anchor="start" fill="#3e3e3e" >36.19%</text>
</svg>
</body></html>
